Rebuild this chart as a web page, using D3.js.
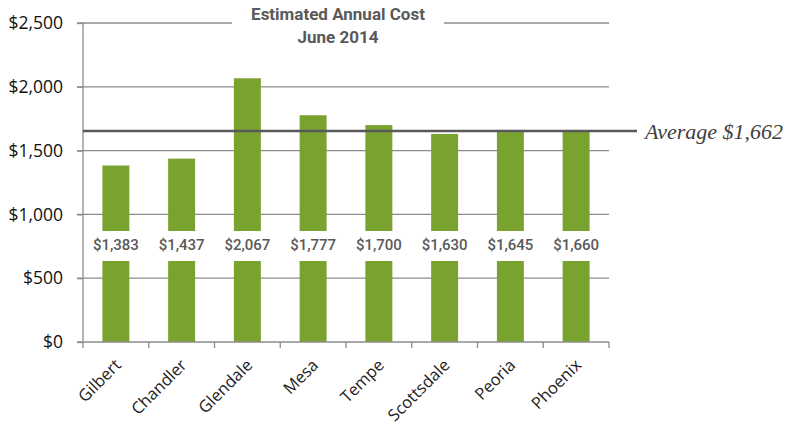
<!DOCTYPE html>
<html>
<head>
<meta charset="utf-8">
<script src="https://cdn.jsdelivr.net/npm/d3@7"></script>
<style>
  body { margin: 0; background: #fff; }
</style>
</head>
<body>
<div class="chart"></div>
<script>
var cities = ["Gilbert", "Chandler", "Glendale", "Mesa", "Tempe", "Scottsdale", "Peoria", "Phoenix"];
var costs = [1383, 1437, 2067, 1777, 1700, 1630, 1645, 1660];
var yTicks = [0, 500, 1000, 1500, 2000, 2500];
var average = 1662;
var titleLines = ["Estimated Annual Cost", "June 2014"];

var svgWidth = 790;
var svgHeight = 427;

var margin = { top: 23, right: 181, bottom: 85, left: 83 };
var width = svgWidth - margin.left - margin.right;
var height = svgHeight - margin.top - margin.bottom;

var svg = d3.select(".chart")
  .append("svg")
  .attr("width", svgWidth)
  .attr("height", svgHeight);

var chartGroup = svg.append("g")
  .attr("transform", `translate(${margin.left}, ${margin.top})`);

// scales
var xBandScale = d3.scaleBand()
  .domain(cities)
  .range([0, width])
  .paddingInner(0.59)
  .paddingOuter(0.295);

var yLinearScale = d3.scaleLinear()
  .domain([0, 2500])
  .range([height, 0]);

// gridlines
chartGroup.append("g")
  .selectAll("line")
  .data(yTicks.filter(d => d > 0))
  .enter()
  .append("line")
  .attr("x1", -6)
  .attr("x2", width)
  .attr("y1", d => yLinearScale(d))
  .attr("y2", d => yLinearScale(d))
  .attr("stroke", "#8c8c8c")
  .attr("stroke-width", 1.3);

// y axis
var leftAxis = d3.axisLeft(yLinearScale)
  .tickValues(yTicks)
  .tickSize(6)
  .tickPadding(14)
  .tickFormat(d => "$" + d3.format(",")(d));

var yAxisG = chartGroup.append("g").call(leftAxis);
yAxisG.select(".domain").attr("stroke", "#8c8c8c").attr("stroke-width", 1.3)
  .attr("d", `M0,0V${height}`);
yAxisG.selectAll(".tick line").attr("stroke", "#8c8c8c").attr("stroke-width", 1.3);
yAxisG.selectAll(".tick text")
  .attr("font-family", "Open Sans")
  .attr("font-size", 17.5)
  .attr("fill", "#111");

// bars
chartGroup.selectAll("rect.bar")
  .data(costs)
  .enter()
  .append("rect")
  .attr("class", "bar")
  .attr("x", (d, i) => xBandScale(cities[i]))
  .attr("y", d => yLinearScale(d))
  .attr("width", xBandScale.bandwidth())
  .attr("height", d => height - yLinearScale(d))
  .attr("fill", "#79a22e");

// x axis
var xAxisG = chartGroup.append("g")
  .attr("transform", `translate(0, ${height})`);
xAxisG.append("line")
  .attr("x1", -6).attr("x2", width)
  .attr("stroke", "#8c8c8c").attr("stroke-width", 1.3);
var stepW = xBandScale.step();
xAxisG.selectAll("line.tick")
  .data(d3.range(cities.length + 1))
  .enter()
  .append("line")
  .attr("class", "tick")
  .attr("x1", d => d * stepW)
  .attr("x2", d => d * stepW)
  .attr("y1", 0).attr("y2", 6)
  .attr("stroke", "#8c8c8c").attr("stroke-width", 1.3);

xAxisG.selectAll("text")
  .data(cities)
  .enter()
  .append("text")
  .attr("transform", d => `translate(${xBandScale(d) + xBandScale.bandwidth() / 2 - 2}, 16) rotate(-45)`)
  .attr("text-anchor", "end")
  .attr("dy", "0.7em")
  .attr("font-family", "Open Sans")
  .attr("font-size", 16.5)
  .attr("fill", "#222")
  .text(d => d);

// data labels with white boxes
var labelY = yLinearScale(0) - 97;
chartGroup.append("rect")
  .attr("x", 2)
  .attr("y", labelY - 14)
  .attr("width", width - 2)
  .attr("height", 30)
  .attr("fill", "#fff");

chartGroup.selectAll("text.value")
  .data(costs)
  .enter()
  .append("text")
  .attr("class", "value")
  .attr("x", (d, i) => xBandScale(cities[i]) + xBandScale.bandwidth() / 2)
  .attr("y", labelY)
  .attr("dy", "0.35em")
  .attr("text-anchor", "middle")
  .attr("font-family", "Roboto")
  .attr("font-size", 15)
  .attr("font-weight", 500)
  .attr("fill", "#595959")
  .text(d => "$" + d3.format(",")(d));

// average line
chartGroup.append("line")
  .attr("x1", 0)
  .attr("x2", 554)
  .attr("y1", yLinearScale(average) + 1)
  .attr("y2", yLinearScale(average) + 1)
  .attr("stroke", "#595959")
  .attr("stroke-width", 2.5);

chartGroup.append("text")
  .attr("x", 562)
  .attr("y", yLinearScale(average) + 1)
  .attr("dy", "0.35em")
  .attr("font-family", "Liberation Serif")
  .attr("font-style", "italic")
  .attr("font-size", 22)
  .attr("fill", "#404040")
  .text("Average $" + d3.format(",")(average));

// title with white background over top gridline
var titleX = 255;
chartGroup.append("rect")
  .attr("x", titleX - 106)
  .attr("y", -14)
  .attr("width", 212)
  .attr("height", 40)
  .attr("fill", "#fff");

chartGroup.selectAll("text.title")
  .data(titleLines)
  .enter()
  .append("text")
  .attr("class", "title")
  .attr("x", titleX)
  .attr("y", (d, i) => -3 + i * 23)
  .attr("text-anchor", "middle")
  .attr("font-family", "Roboto")
  .attr("font-weight", "bold")
  .attr("font-size", 17)
  .attr("fill", "#595959")
  .text(d => d);
</script>
</body>
</html>
